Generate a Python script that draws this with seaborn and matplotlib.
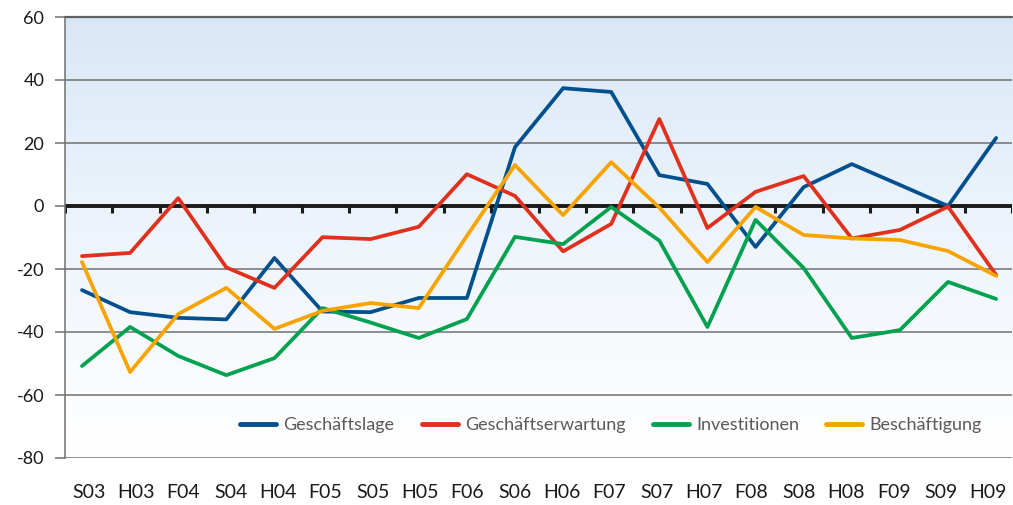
import numpy as np
import pandas as pd
import matplotlib.pyplot as plt
import seaborn as sns

# --- Data ---
periods = ['S03', 'H03', 'F04', 'S04', 'H04', 'F05', 'S05', 'H05', 'F06', 'S06',
           'H06', 'F07', 'S07', 'H07', 'F08', 'S08', 'H08', 'F09', 'S09', 'H09']
geschaeftslage = [-26.7, -33.7, -35.5, -36.0, -16.5, -33.5, -33.7, -29.2, -29.2, 18.7,
                  37.4, 36.2, 9.8, 7.0, -13.0, 6.0, 13.3, 6.7, 0.0, 21.6]
geschaeftserwartung = [-15.9, -14.9, 2.5, -19.5, -26.0, -9.9, -10.5, -6.6, 10.1, 3.2,
                       -14.4, -5.7, 27.6, -7.0, 4.5, 9.5, -10.3, -7.6, -0.2, -21.9]
investitionen = [-50.8, -38.4, -47.6, -53.7, -48.3, -32.4, -37.0, -41.9, -35.9, -9.8,
                 -12.1, -0.3, -11.0, -38.4, -4.4, -19.7, -41.9, -39.4, -24.1, -29.5]
beschaeftigung = [-17.8, -52.7, -34.3, -26.0, -39.0, -33.3, -30.8, -32.4, -9.5, 13.0,
                  -2.9, 13.9, -0.5, -17.8, -0.3, -9.2, -10.3, -10.8, -14.3, -22.2]

series = {
    'Geschäftslage': geschaeftslage,
    'Geschäftserwartung': geschaeftserwartung,
    'Investitionen': investitionen,
    'Beschäftigung': beschaeftigung,
}
colors = {
    'Geschäftslage': '#00508e',
    'Geschäftserwartung': '#e0301e',
    'Investitionen': '#00a14f',
    'Beschäftigung': '#f7a300',
}

rows = []
for name, vals in series.items():
    for i, v in enumerate(vals):
        rows.append({'pos': i, 'Periode': periods[i], 'Wert': v, 'Reihe': name})
df = pd.DataFrame(rows)

# --- Style ---
sns.set_style('white')
plt.rcParams['font.family'] = ['Lato', 'DejaVu Sans']

fig = plt.figure(figsize=(10.13, 5.05), dpi=100)
ax = fig.add_axes([65 / 1013, 47 / 505, 947 / 1013, 441 / 505])

xmin, xmax = -0.353, 19.33
ymin, ymax = -80, 60

# background gradient (light blue at top -> white at bottom)
top = np.array([0.843, 0.902, 0.965])
bot = np.array([1.0, 1.0, 1.0])
t = np.linspace(0, 1, 256)[:, None]
grad = top + (bot - top) * t ** 0.8
ax.imshow(grad[:, None, :].repeat(2, axis=1), extent=[xmin, xmax, ymin, ymax],
          aspect='auto', zorder=0, interpolation='bicubic')

# grid lines
for yv in range(-80, 61, 20):
    if yv == 0:
        continue
    ax.axhline(yv, color='#707070', lw=1.1, zorder=1)

sns.lineplot(data=df, x='pos', y='Wert', hue='Reihe', palette=colors,
             lw=2.7, sort=False, ax=ax, zorder=3, legend=False)

# zero line with tick marks (category boundaries)
ax.axhline(0, color='#1a1a1a', lw=2.8, zorder=2)
ticks_x = np.linspace(xmin, xmax, len(periods) + 1)
ax.vlines(ticks_x, -2.1, 0, color='#1a1a1a', lw=2.2, zorder=2)

ax.set_xlim(xmin, xmax)
ax.set_ylim(ymin, ymax)

for side in ['right', 'bottom', 'top']:
    ax.spines[side].set_visible(False)
ax.spines['left'].set_color('#707070')
ax.spines['left'].set_linewidth(1.1)
ax.axhline(60, color='#606060', lw=1.6, zorder=1, clip_on=False)

ax.set_yticks(range(-80, 61, 20))
ax.set_yticklabels([str(v) for v in range(-80, 61, 20)], fontsize=13, color='#1a1a1a')
ax.tick_params(axis='y', length=7, width=1.1, color='#707070', pad=8, left=True)

# category labels sit in the middle of each tick interval
ax.set_xticks((ticks_x[:-1] + ticks_x[1:]) / 2)
ax.set_xticklabels(periods, fontsize=14, color='#1a1a1a')
ax.tick_params(axis='x', length=0, pad=19)

ax.set_xlabel('')
ax.set_ylabel('')

handles = [plt.Line2D([], [], color=colors[n], lw=3.5, solid_capstyle='round') for n in series]
leg = ax.legend(handles, list(series.keys()), ncol=4, frameon=False, fontsize=13,
                loc='center right', bbox_to_anchor=(0.985, 0.075),
                handlelength=2.0, handletextpad=0.4, columnspacing=1.5)
for txt in leg.get_texts():
    txt.set_color('#5a5a5a')

plt.savefig('out.png', dpi=100)
